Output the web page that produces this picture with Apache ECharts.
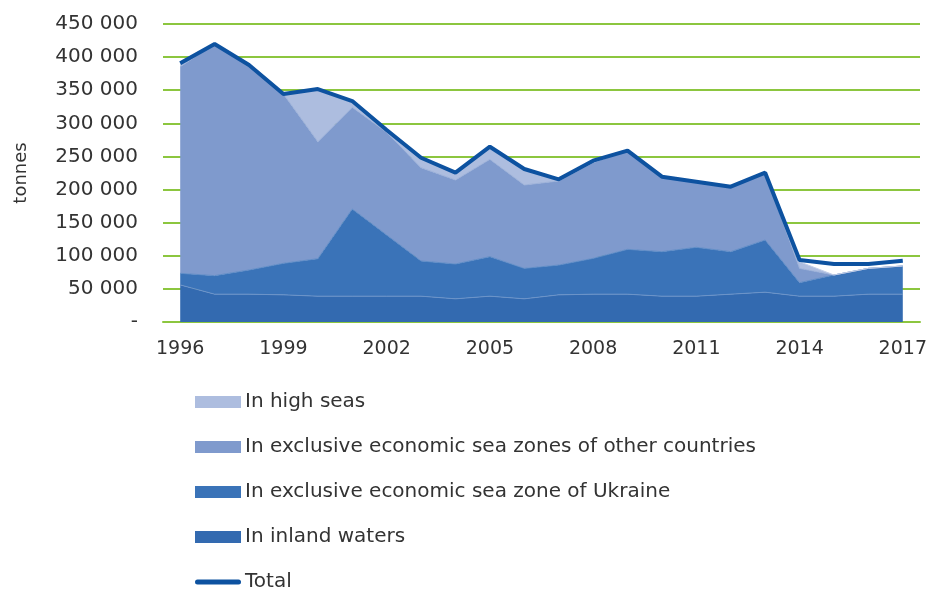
<!DOCTYPE html>
<html>
<head>
<meta charset="utf-8">
<script src="https://cdn.jsdelivr.net/npm/echarts@6/dist/echarts.min.js"></script>
<style>
  html, body { margin: 0; padding: 0; background: #fff; }
  #chart { width: 932px; height: 590px; }
</style>
</head>
<body>
<div id="chart"></div>
<script>
const years = ['1996','1997','1998','1999','2000','2001','2002','2003','2004','2005','2006',
  '2007','2008','2009','2010','2011','2012','2013','2014','2015','2016','2017'];

const inlandWaters = [56000, 42000, 42000, 41000, 39000, 39000, 39000, 39000, 35000, 39000, 35000,
  41000, 42000, 42000, 39000, 39000, 42000, 45000, 39000, 39000, 42000, 42000];
const ukraineZone = [17500, 28000, 36500, 47600, 56600, 131600, 92400, 53100, 52600, 59600, 46000,
  45000, 54100, 67700, 67200, 73800, 64200, 78800, 20400, 32000, 39000, 42600];
const otherZones = [312000, 349800, 308500, 255700, 176700, 153600, 155000, 140900, 126800, 147000, 125900,
  126900, 144500, 149000, 113200, 99100, 98100, 101700, 21600, 0, 0, 0];
const highSeas = [5100, 0, 1000, 0, 79500, 7000, 3600, 15000, 11100, 19100, 24100,
  2500, 3000, 0, 0, 0, 0, 0, 10000, 0, 0, 0];
const total = [390600, 419800, 388000, 344300, 351800, 333700, 290000, 248000, 225500, 264700, 231000,
  215400, 243600, 258700, 219400, 211900, 204300, 225500, 93600, 87600, 87600, 92600];

const FONT = 'DejaVu Sans';
const chart = echarts.init(document.getElementById('chart'));

function areaSeries(name, data, color, edge) {
  return {
    name: name,
    type: 'line',
    stack: 'catch',
    data: data,
    symbol: 'none',
    lineStyle: { width: 1, color: edge },
    itemStyle: { color: color },
    areaStyle: { color: color, opacity: 1 },
    emphasis: { disabled: true }
  };
}

chart.setOption({
  animation: false,
  grid: { left: 163, right: 12, top: 24, bottom: 268 },
  xAxis: {
    type: 'category',
    data: years,
    boundaryGap: true,
    axisLine: { lineStyle: { color: '#8cc63f', width: 2 } },
    axisTick: { show: false },
    axisLabel: {
      interval: 2,
      color: '#333',
      fontFamily: FONT,
      fontSize: 19,
      margin: 18
    }
  },
  yAxis: {
    type: 'value',
    min: 0,
    max: 450000,
    interval: 50000,
    name: 'tonnes',
    nameLocation: 'middle',
    nameGap: 133,
    nameRotate: 90,
    nameTextStyle: { color: '#333', fontFamily: FONT, fontSize: 18 },
    axisLine: { show: false },
    axisTick: { show: false },
    splitLine: { lineStyle: { color: '#8cc63f', width: 2 } },
    axisLabel: {
      color: '#333',
      fontFamily: FONT,
      fontSize: 20,
      margin: 25,
      formatter: v => v === 0 ? '-' : (v / 1000) + ' 000'
    }
  },
  legend: {
    orient: 'vertical',
    left: 190,
    top: 387,
    height: 200,
    itemWidth: 46,
    itemHeight: 12,
    itemGap: 25,
    textStyle: { color: '#333', fontFamily: FONT, fontSize: 20, lineHeight: 20, padding: [0, 0, 0, -1] },
    data: [
      { name: 'In high seas', icon: 'rect' },
      { name: 'In exclusive economic sea zones of other countries', icon: 'rect' },
      { name: 'In exclusive economic sea zone of Ukraine', icon: 'rect' },
      { name: 'In inland waters', icon: 'rect' },
      { name: 'Total', icon: 'path://M2.5,0 H43.5 A2.5,2.5 0 0 1 43.5,5 H2.5 A2.5,2.5 0 0 1 2.5,0 Z' }
    ]
  },
  series: [
    areaSeries('In inland waters', inlandWaters, '#336ab0', '#6b93c8'),
    areaSeries('In exclusive economic sea zone of Ukraine', ukraineZone, '#3a73b8', '#5f8cc6'),
    areaSeries('In exclusive economic sea zones of other countries', otherZones, '#7f9acd', '#9bb0d8'),
    areaSeries('In high seas', highSeas, '#adbddf', '#c3cfe8'),
    {
      name: 'Total',
      type: 'line',
      data: total,
      symbol: 'none',
      z: 5,
      lineStyle: { width: 4, color: '#0d52a0' },
      itemStyle: { color: '#0d52a0' },
      emphasis: { disabled: true }
    }
  ]
});
</script>
</body>
</html>
